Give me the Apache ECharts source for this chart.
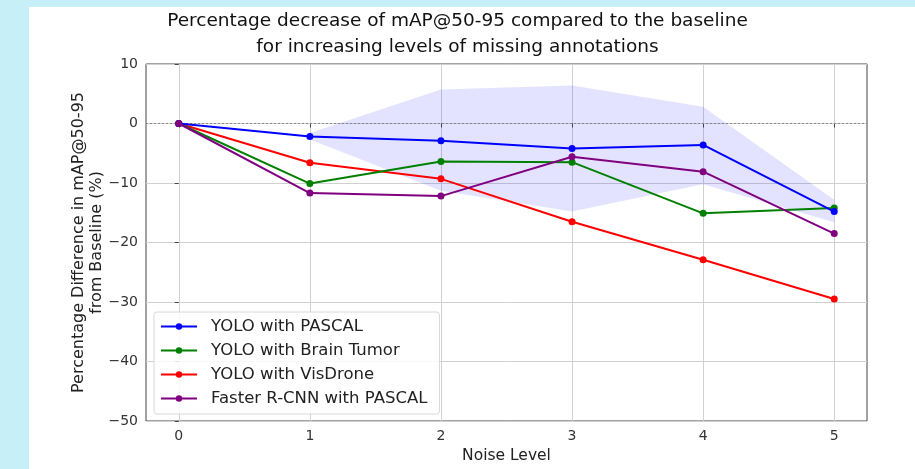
<!DOCTYPE html>
<html lang="en">
<head>
    <meta charset="UTF-8">
    <title>Percentage decrease of mAP@50-95</title>
    <style>
        html, body {
            margin: 0;
            background: #c6eff7;
        }

        #panel {
            position: absolute;
            left: 29px;
            top: 7px;
            right: 0;
            bottom: 0;
            background: #fff;
        }

        #chart {
            position: absolute;
            left: 0;
            top: 0;
            width: 915px;
            height: 469px;
        }
    </style>
</head>
<body>
    <div id="panel"></div>
    <div id="chart"></div>

    <script src="https://cdn.jsdelivr.net/npm/echarts@6/dist/echarts.min.js"></script>
    <script>
        // noise levels on the x axis
        var noiseLevels = [0, 1, 2, 3, 4, 5];

        // percentage difference from baseline
        var yoloPascal = [0, -2.2, -2.9, -4.2, -3.6, -14.8];
        var yoloBrain = [0, -10.1, -6.4, -6.5, -15.1, -14.2];
        var yoloVisDrone = [0, -6.6, -9.3, -16.5, -22.9, -29.5];
        var frcnnPascal = [0, -11.7, -12.2, -5.6, -8.1, -18.5];

        // shaded band around YOLO with PASCAL (starts at noise level 1)
        var bandLevels = [1, 2, 3, 4, 5];
        var bandUpper = [-1.6, 5.7, 6.4, 2.8, -12.8];
        var bandLower = [-2.7, -11.3, -14.8, -10.2, -16.6];

        var myChart = echarts.init(document.getElementById('chart'), null, { renderer: 'canvas' });

        function pairs(values) {
            return values.map(function(v, i) { return [noiseLevels[i], v]; });
        }

        function lineSeries(name, values, color, z) {
            return {
                name: name,
                type: 'line',
                data: pairs(values),
                symbol: 'circle',
                symbolSize: 7,
                z: z,
                itemStyle: { color: color },
                lineStyle: { color: color, width: 2 },
                emphasis: { disabled: true }
            };
        }

        var bandData = bandLevels.map(function(x, i) {
            return [x, bandLower[i], bandUpper[i]];
        });

        // whole band drawn once as a polygon, through the axis scales
        function renderBand(params, api) {
            if (params.dataIndexInside !== 0) return null;
            var n = params.dataInsideLength;
            var top = [];
            var bottom = [];
            for (var i = 0; i < n; i++) {
                var x = api.value(0, i);
                top.push(api.coord([x, api.value(2, i)]));
                bottom.unshift(api.coord([x, api.value(1, i)]));
            }
            return {
                type: 'polygon',
                shape: { points: top.concat(bottom) },
                style: { fill: 'rgba(0,0,255,0.11)' },
                silent: true
            };
        }

        var font = 'DejaVu Sans';

        var option = {
            animation: false,
            title: {
                text: 'Percentage decrease of mAP@50-95 compared to the baseline\nfor increasing levels of missing annotations',
                left: 'center',
                top: 3,
                textStyle: {
                    fontFamily: font,
                    fontSize: 18.5,
                    fontWeight: 'normal',
                    color: '#111',
                    lineHeight: 26
                }
            },
            legend: {
                data: ['YOLO with PASCAL', 'YOLO with Brain Tumor', 'YOLO with VisDrone', 'Faster R-CNN with PASCAL'],
                orient: 'vertical',
                left: 154,
                top: 312,
                itemWidth: 36,
                itemHeight: 8,
                itemGap: 5,
                padding: [5, 12, 6, 6],
                backgroundColor: 'rgba(255,255,255,0.85)',
                borderColor: '#d8d8d8',
                borderWidth: 1,
                borderRadius: 3,
                textStyle: { fontFamily: font, fontSize: 16.5, color: '#222', padding: [0, 0, 0, 9], lineHeight: 19 }
            },
            grid: {
                left: 146,
                right: 48,
                top: 64,
                bottom: 47,
                show: true,
                borderColor: '#444',
                borderWidth: 1,
                backgroundColor: 'transparent'
            },
            xAxis: {
                type: 'value',
                min: -0.25,
                max: 5.25,
                name: 'Noise Level',
                nameLocation: 'middle',
                nameGap: 27,
                nameTextStyle: { fontFamily: font, fontSize: 15.5, color: '#222' },
                axisLine: { show: false },
                axisTick: { show: true, length: 4, lineStyle: { color: '#444' }, customValues: noiseLevels },
                axisLabel: { fontFamily: font, fontSize: 14, color: '#333', margin: 8, customValues: noiseLevels },
                splitLine: { show: true, lineStyle: { color: '#d0d0d0', width: 1 } }
            },
            yAxis: {
                type: 'value',
                min: -50,
                max: 10,
                interval: 10,
                name: 'Percentage Difference in mAP@50-95\nfrom Baseline (%)',
                nameLocation: 'middle',
                nameGap: 40,
                nameMoveOverlap: false,
                nameTextStyle: { fontFamily: font, fontSize: 16, color: '#222', lineHeight: 18 },
                axisLine: { show: false },
                axisTick: { show: true, length: 4, lineStyle: { color: '#444' } },
                axisLabel: {
                    fontFamily: font,
                    fontSize: 14,
                    color: '#333',
                    margin: 8,
                    formatter: function(v) { return v < 0 ? '\u2212' + Math.abs(v) : String(v); }
                },
                splitLine: { show: true, lineStyle: { color: '#d0d0d0', width: 1 } }
            },
            series: [
                {
                    name: 'band',
                    type: 'custom',
                    renderItem: renderBand,
                    data: bandData,
                    encode: { x: 0, y: [1, 2] },
                    silent: true,
                    z: 1
                },
                {
                    name: 'zero',
                    type: 'line',
                    data: [],
                    silent: true,
                    markLine: {
                        silent: true,
                        symbol: 'none',
                        label: { show: false },
                        lineStyle: { color: '#888', type: [2, 2], width: 1 },
                        data: [{ yAxis: 0 }]
                    }
                },
                lineSeries('YOLO with PASCAL', yoloPascal, '#0000ff', 5),
                lineSeries('YOLO with Brain Tumor', yoloBrain, '#008000', 4),
                lineSeries('YOLO with VisDrone', yoloVisDrone, '#ff0000', 3),
                lineSeries('Faster R-CNN with PASCAL', frcnnPascal, '#800080', 6)
            ]
        };

        myChart.setOption(option);
    </script>
</body>
</html>
